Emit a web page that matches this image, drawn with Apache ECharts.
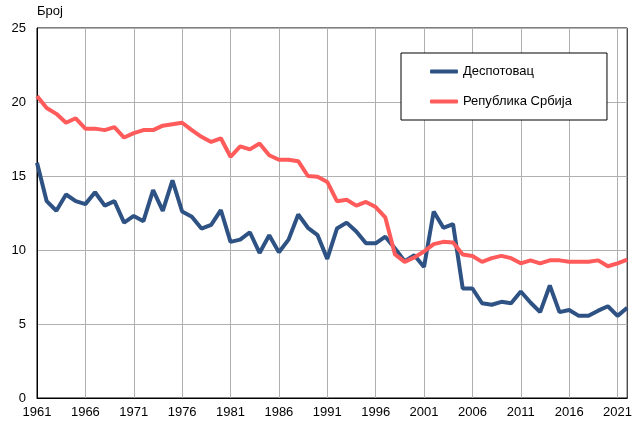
<!DOCTYPE html>
<html>
<head>
<meta charset="utf-8">
<script src="https://cdn.jsdelivr.net/npm/echarts@6/dist/echarts.min.js"></script>
<style>
  html, body { margin: 0; padding: 0; background: #fff; }
  #chart { width: 635px; height: 421px; }
</style>
</head>
<body>
<div id="chart"></div>
<script>
// years 1961 - 2022
const years = []
for (let y = 1961; y <= 2022; y++) years.push(String(y))

const despotovac = [
  15.9, 13.3, 12.65, 13.75, 13.3, 13.1, 13.9, 13.0, 13.3, 11.85,
  12.3, 11.95, 14.05, 12.65, 14.7, 12.6, 12.25, 11.45, 11.7, 12.7,
  10.55, 10.7, 11.2, 9.8, 11.0, 9.85, 10.7, 12.4, 11.5, 11.0,
  9.4, 11.45, 11.85, 11.25, 10.45, 10.45, 10.9, 10.1, 9.25, 9.65,
  8.85, 12.6, 11.5, 11.75, 7.4, 7.4, 6.4, 6.3, 6.5, 6.4,
  7.2, 6.45, 5.8, 7.6, 5.8, 5.95, 5.55, 5.55, 5.9, 6.2,
  5.55, 6.1
]

const srbija = [
  20.4, 19.6, 19.2, 18.6, 18.9, 18.2, 18.2, 18.1, 18.3, 17.6,
  17.9, 18.1, 18.1, 18.4, 18.5, 18.6, 18.1, 17.65, 17.3, 17.55,
  16.3, 17.0, 16.8, 17.2, 16.4, 16.1, 16.1, 16.0, 15.0, 14.95,
  14.6, 13.3, 13.4, 13.0, 13.25, 12.9, 12.2, 9.7, 9.2, 9.5,
  9.9, 10.4, 10.55, 10.5, 9.7, 9.6, 9.2, 9.45, 9.6, 9.45,
  9.1, 9.3, 9.1, 9.3, 9.3, 9.2, 9.2, 9.2, 9.3, 8.9,
  9.1, 9.35
]

const seriesNames = ['Деспотовац', 'Република Србија']
const font = 'Liberation Sans, Arial, sans-serif'

const chart = echarts.init(document.getElementById('chart'))
chart.setOption({
  backgroundColor: '#fff',
  animation: false,
  textStyle: { fontFamily: font },
  grid: {
    left: 37,
    right: 6,
    top: 28,
    bottom: 23,
    show: true,
    borderColor: '#000',
    borderWidth: 1
  },
  legend: {
    data: seriesNames,
    orient: 'vertical',
    left: 401,
    top: 53,
    padding: [11, 35, 11, 29],
    itemGap: 15,
    icon: 'roundRect',
    itemWidth: 28,
    itemHeight: 4,
    borderColor: '#000',
    borderWidth: 1,
    backgroundColor: '#fff',
    textStyle: { fontSize: 13, color: '#000', fontFamily: font, lineHeight: 15 }
  },
  xAxis: {
    type: 'category',
    boundaryGap: false,
    data: years,
    axisLine: { lineStyle: { color: '#000', width: 1 } },
    axisTick: { show: false },
    axisLabel: {
      interval: 4,
      color: '#000',
      fontSize: 13,
      margin: 8
    },
    splitLine: {
      show: true,
      interval: 4,
      lineStyle: { color: '#b0b0b0', width: 1 }
    }
  },
  yAxis: {
    type: 'value',
    min: 0,
    max: 25,
    interval: 5,
    name: 'Број',
    nameLocation: 'end',
    nameGap: 10,
    nameTextStyle: { align: 'left', color: '#000', fontSize: 13 },
    axisLine: { show: true, lineStyle: { color: '#000', width: 1 } },
    axisTick: { show: false },
    axisLabel: { color: '#000', fontSize: 13, margin: 11 },
    splitLine: { lineStyle: { color: '#b0b0b0', width: 1 } }
  },
  series: [{
    name: seriesNames[0],
    type: 'line',
    data: despotovac,
    showSymbol: false,
    symbol: 'none',
    lineStyle: { color: '#2e5283', width: 4 },
    itemStyle: { color: '#2e5283' }
  }, {
    name: seriesNames[1],
    type: 'line',
    data: srbija,
    showSymbol: false,
    symbol: 'none',
    lineStyle: { color: '#ff5b5b', width: 4 },
    itemStyle: { color: '#ff5b5b' }
  }]
})
</script>
</body>
</html>
